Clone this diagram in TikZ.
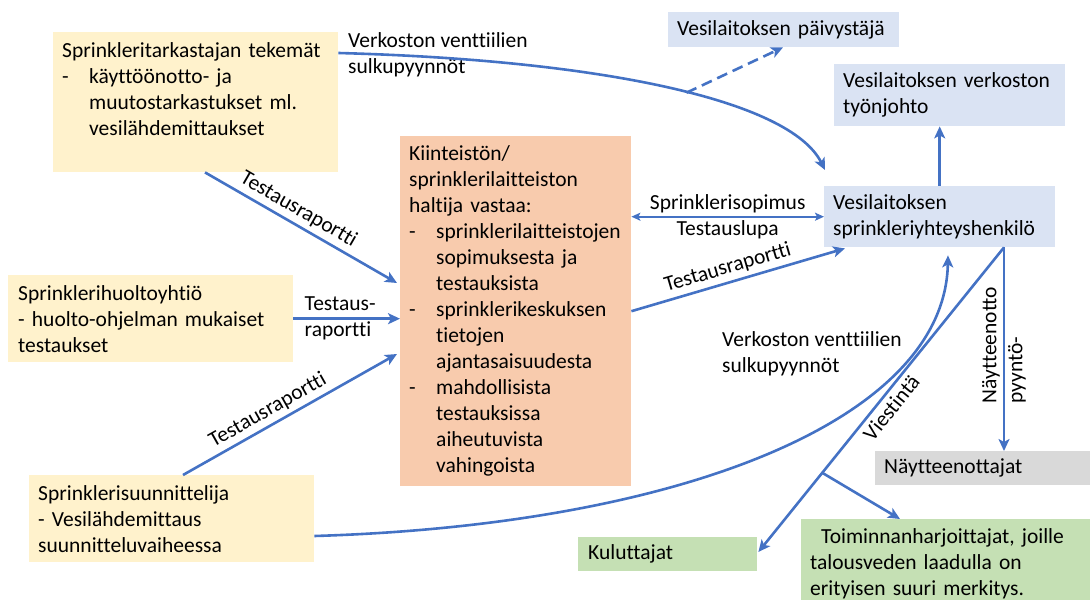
\documentclass[tikz,border=0pt]{standalone}
\usepackage{fontspec}
\setmainfont{Carlito}[Ligatures=NoCommon]
\usetikzlibrary{arrows.meta,calc}
\hyphenpenalty=10000
\newcommand{\listdash}{\makebox[27bp][l]{-}}
\newcommand{\listind}{\hspace*{27bp}}

\begin{document}
\begin{tikzpicture}[x=1bp,y=-1bp,every node/.style={font=\fontsize{21.5bp}{26bp}\selectfont,align=left,inner sep=0},>={Stealth[length=12bp,width=11bp,inset=3bp]}]
\path[use as bounding box] (0,0) rectangle (1090,600);
\definecolor{ink}{HTML}{4472C4}
\definecolor{cream}{HTML}{FFF2CC}
\definecolor{peach}{HTML}{F8CBAD}
\definecolor{pale}{HTML}{DAE3F3}
\definecolor{greybox}{HTML}{D9D9D9}
\definecolor{mint}{HTML}{C5E0B4}
\tikzset{box/.style={anchor=north west,inner xsep=9bp,inner ysep=0},
  flow/.style={draw=ink,line width=2.6bp,->},
  duo/.style={draw=ink,line width=1.8bp,{Stealth[length=9bp,width=8bp,inset=2bp]}-{Stealth[length=9bp,width=8bp,inset=2bp]}}}
% left column
\node[box,fill=cream,text width=267bp,minimum height=140bp] (sprtark) at (53,32) {Sprinkleritarkastajan tekemät\\
\listdash käyttöönotto- ja\\
\listind muutostarkastukset ml.\\
\listind vesilähdemittaukset\\\mbox{}};
\node[box,fill=cream,inner xsep=10bp,text width=265bp,minimum height=87bp] (huolto) at (8,275) {Sprinklerihuoltoyhtiö\\
- huolto-ohjelman mukaiset\\
testaukset};
\node[box,fill=cream,text width=267bp,minimum height=87bp] (suunn) at (29,475) {Sprinklerisuunnittelija\\
- Vesilähdemittaus\\
suunnitteluvaiheessa};
% centre
\node[box,fill=peach,text width=213bp,minimum height=350bp] (haltija) at (400,136) {Kiinteistön/\\
sprinklerilaitteiston\\
haltija vastaa:\\
\listdash sprinklerilaitteistojen\\
\listind sopimuksesta ja\\
\listind testauksista\\
\listdash sprinklerikeskuksen\\
\listind tietojen\\
\listind ajantasaisuudesta\\
\listdash mahdollisista\\
\listind testauksissa\\
\listind aiheutuvista\\
\listind vahingoista};
% right column
\node[box,fill=pale,text width=213bp,minimum height=35bp] (paivystaja) at (668,12) {Vesilaitoksen päivystäjä};
\node[box,fill=pale,text width=213bp,minimum height=62bp] (tyonjohto) at (834,64) {Vesilaitoksen verkoston\\työnjohto};
\node[box,fill=pale,text width=213bp,minimum height=61bp] (yhteys) at (824,186) {Vesilaitoksen\\sprinkleriyhteyshenkilö};
\node[box,fill=greybox,text width=199bp,minimum height=34bp] (naytteet) at (875,451) {Näytteenottajat};
\node[box,fill=mint,inner xsep=10bp,text width=159bp,minimum height=34bp] (kuluttajat) at (578,537) {Kuluttajat};
\node[box,fill=mint,text width=271bp,minimum height=90bp] (toimijat) at (801,519) {\hspace*{11bp}Toiminnanharjoittajat, joille\\
talousveden laadulla on\\
erityisen suuri merkitys.};
% free labels
\node[anchor=north west] (sulku1) at (348,32) {Verkoston venttiilien\\sulkupyynnöt};
\node[anchor=north west] (sulku2) at (722,331) {Verkoston venttiilien\\sulkupyynnöt};
% connectors
\draw[flow] ($(sprtark.north east)+(0,21)$) .. controls (600,60) and (790,100) .. ($(yhteys.north west)+(1,-16)$) coordinate[pos=0.54] (dashstart);
\draw[flow,dash pattern=on 11bp off 6bp] (dashstart) -- ($(paivystaja.south west)+(115,0)$);
\draw[flow] ($(sprtark.south west)+(152,0)$) -- ($(haltija.north west)+(-3,147)$) node[pos=0.45,sloped,above,inner sep=4bp] {Testausraportti};
\draw[flow] (huolto.east) -- (huolto.east -| haltija.west) node[pos=0,anchor=west,xshift=10bp] {Testaus-\\raportti};
\draw[flow] ($(suunn.north west)+(154,0)$) -- ($(haltija.north west)+(-3,218)$) node[pos=0.43,sloped,above,inner sep=4bp] {Testausraportti};
\draw[duo] (yhteys.west) -- (yhteys.west -| haltija.east) node[midway,above,inner sep=3bp] {Sprinklerisopimus} node[midway,below,inner sep=3bp] {Testauslupa};
\draw[flow] (haltija.east) -- ($(yhteys.south west)+(21,1)$) node[pos=0.47,sloped,above,inner sep=4bp] {Testausraportti};
\draw[flow] (yhteys.north) -- (yhteys.north |- tyonjohto.south);
\draw[flow] ($(suunn.north east)+(0,61)$) .. controls (680,525) and (945,420) .. ($(yhteys.south west)+(124,8)$);
\coordinate (yfoot) at ($(yhteys.south west)+(180,0)$);
\draw[flow] (yfoot) -- ($(kuluttajat.north east)+(1,15)$) coordinate[pos=0.74] (branch) node[pos=0.5,sloped,below,inner sep=4bp] {Viestintä};
\draw[flow] (branch) -- ($(toimijat.north west)+(99,0)$);
\draw[flow] (yfoot) -- (yfoot |- naytteet.north) node[pos=0.48,rotate=90] {Näytteenotto\\pyyntö-};
\end{tikzpicture}
\end{document}
